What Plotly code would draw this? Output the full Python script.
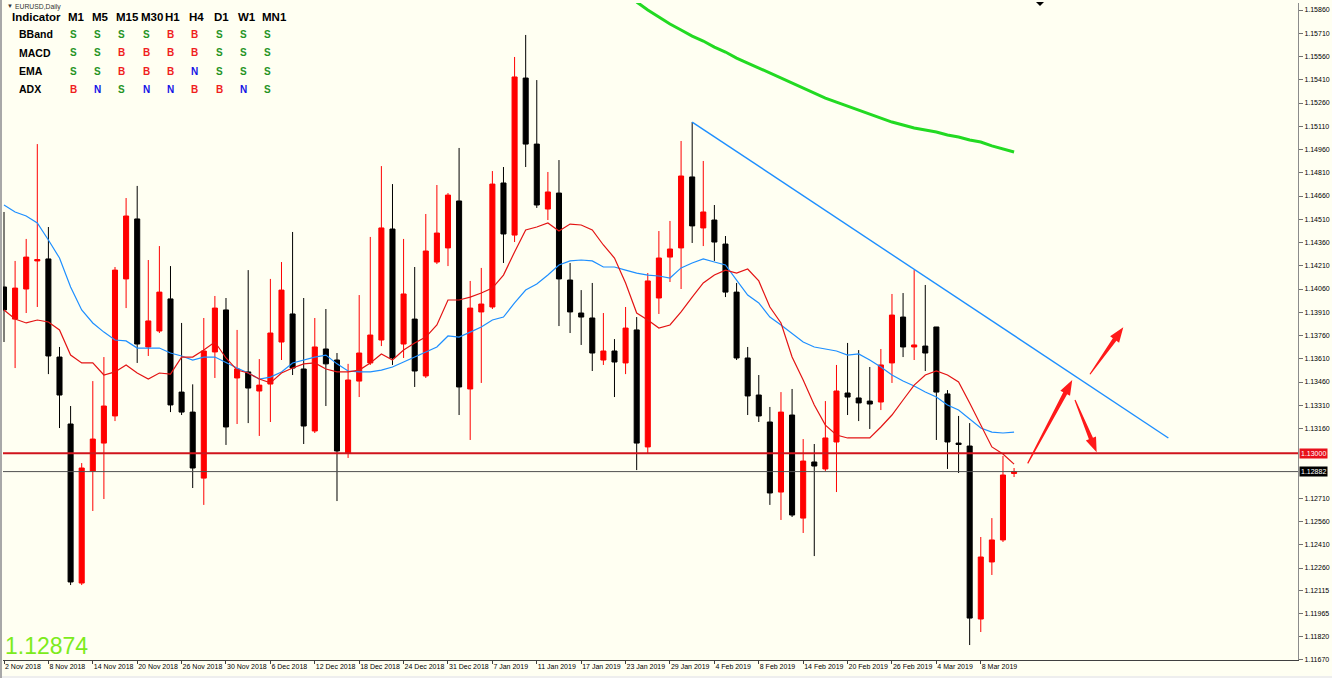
import math
import plotly.graph_objects as go

# ---------------- data ----------------
OPEN = [1.14073, 1.13866, 1.14060, 1.14241, 1.14254, 1.13621, 1.13189, 1.12163, 1.12886, 1.13066,
        1.13241, 1.14125, 1.14512, 1.13686, 1.13789, 1.13996, 1.13395, 1.13266, 1.12840, 1.13654,
        1.13925, 1.13486, 1.13525, 1.13402, 1.13447, 1.13718, 1.13899, 1.13544, 1.13144, 1.13673,
        1.13602, 1.13002, 1.13466, 1.13583, 1.13731, 1.14447, 1.13705, 1.13866, 1.13499, 1.14234,
        1.14325, 1.14628, 1.13415, 1.13912, 1.13944, 1.14744, 1.14408, 1.15421, 1.14995, 1.14576,
        1.14679, 1.14118, 1.13905, 1.13873, 1.13602, 1.13660, 1.13583, 1.13796, 1.13041, 1.14002,
        1.14266, 1.14325, 1.14783, 1.14454, 1.14505, 1.14350, 1.14040, 1.13615, 1.13376, 1.13202,
        1.12750, 1.13247, 1.12582, 1.12944, 1.12899, 1.13073, 1.13389, 1.13357, 1.13337, 1.13331,
        1.13583, 1.13879, 1.13686, 1.13692, 1.13815, 1.13383, 1.13066, 1.13047, 1.11931, 1.12299,
        1.12441, 1.12870]
HIGH = [1.14557, 1.14241, 1.14383, 1.14995, 1.14460, 1.13686, 1.13305, 1.12937, 1.13466, 1.13621,
        1.14202, 1.14647, 1.14725, 1.14247, 1.14337, 1.14208, 1.13841, 1.13445, 1.13873, 1.14015,
        1.14002, 1.13796, 1.14182, 1.13608, 1.14125, 1.14234, 1.14428, 1.14002, 1.13873, 1.13931,
        1.13647, 1.13577, 1.14021, 1.14396, 1.14853, 1.14737, 1.14383, 1.14202, 1.14544, 1.14731,
        1.14679, 1.14970, 1.14112, 1.14196, 1.14821, 1.14847, 1.15557, 1.15699, 1.15408, 1.14815,
        1.14892, 1.14228, 1.14053, 1.14099, 1.13905, 1.13737, 1.13944, 1.13879, 1.14163, 1.14434,
        1.14499, 1.15015, 1.15137, 1.14886, 1.14602, 1.14402, 1.14099, 1.13686, 1.13505, 1.13299,
        1.13395, 1.13415, 1.13092, 1.13060, 1.13337, 1.13570, 1.13712, 1.13666, 1.13557, 1.13673,
        1.14028, 1.14034, 1.14182, 1.14086, 1.13815, 1.13408, 1.13241, 1.13195, 1.12460, 1.12582,
        1.12983, 1.12905]
LOW = [1.13718, 1.13550, 1.13905, 1.13944, 1.13511, 1.13163, 1.12150, 1.12150, 1.12628, 1.12705,
       1.13208, 1.13937, 1.13583, 1.13628, 1.13776, 1.13266, 1.13247, 1.12776, 1.12667, 1.13486,
       1.13054, 1.13189, 1.13195, 1.13112, 1.13202, 1.13602, 1.13505, 1.13060, 1.13131, 1.13305,
       1.12692, 1.12970, 1.13363, 1.13570, 1.13692, 1.13570, 1.13615, 1.13428, 1.13486, 1.14221,
       1.14208, 1.13247, 1.13086, 1.13454, 1.13931, 1.14228, 1.14363, 1.14847, 1.14583, 1.14505,
       1.13821, 1.13776, 1.13699, 1.13531, 1.13570, 1.13363, 1.13511, 1.12892, 1.13002, 1.13899,
       1.14105, 1.14060, 1.14357, 1.14337, 1.14241, 1.14008, 1.13602, 1.13247, 1.13202, 1.12667,
       1.12570, 1.12589, 1.12486, 1.12337, 1.12886, 1.12750, 1.13247, 1.13208, 1.13157, 1.13279,
       1.13454, 1.13621, 1.13602, 1.13531, 1.13086, 1.12899, 1.12873, 1.11763, 1.11847, 1.12215,
       1.12428, 1.12847]
CLOSE = [1.13925, 1.14066, 1.14266, 1.14250, 1.13628, 1.13376, 1.12170, 1.12905, 1.13092, 1.13305,
         1.14182, 1.14531, 1.13705, 1.13854, 1.14040, 1.13312, 1.13266, 1.12905, 1.13660, 1.13937,
         1.13170, 1.13544, 1.13421, 1.13440, 1.13776, 1.14053, 1.13550, 1.13176, 1.13686, 1.13577,
         1.13015, 1.13473, 1.13647, 1.13763, 1.14454, 1.13615, 1.14028, 1.13531, 1.14305, 1.14421,
         1.14666, 1.13428, 1.13937, 1.13963, 1.14737, 1.14415, 1.15428, 1.14995, 1.14602, 1.14686,
         1.14125, 1.13912, 1.13879, 1.13647, 1.13660, 1.13589, 1.13808, 1.13066, 1.14112, 1.14260,
         1.14318, 1.14789, 1.14467, 1.14557, 1.14363, 1.14040, 1.13615, 1.13370, 1.13241, 1.12744,
         1.13266, 1.12602, 1.12950, 1.12918, 1.13099, 1.13402, 1.13363, 1.13325, 1.13318, 1.13570,
         1.13892, 1.13686, 1.13699, 1.13647, 1.13395, 1.13073, 1.13057, 1.11937, 1.12331, 1.12441,
         1.12860, 1.12882]

MA_FAST = [1.13925, 1.13866, 1.13841, 1.13860, 1.13847, 1.13796, 1.13634, 1.13583, 1.13583, 1.13505,
           1.13525, 1.13570, 1.13518, 1.13479, 1.13518, 1.13511, 1.13621, 1.13621, 1.13666, 1.13718,
           1.13615, 1.13537, 1.13518, 1.13479, 1.13454, 1.13518, 1.13550, 1.13577, 1.13583, 1.13544,
           1.13525, 1.13525, 1.13537, 1.13583, 1.13641, 1.13602, 1.13666, 1.13712, 1.13750, 1.13828,
           1.13989, 1.13989, 1.14008, 1.14034, 1.14066, 1.14150, 1.14299, 1.14441, 1.14460, 1.14486,
           1.14434, 1.14479, 1.14473, 1.14441, 1.14344, 1.14260, 1.14099, 1.13905, 1.13860, 1.13808,
           1.13828, 1.13912, 1.14008, 1.14099, 1.14150, 1.14182, 1.14163, 1.14189, 1.14112, 1.13944,
           1.13841, 1.13621, 1.13473, 1.13312, 1.13182, 1.13118, 1.13099, 1.13099, 1.13099, 1.13170,
           1.13247, 1.13344, 1.13440, 1.13505, 1.13531, 1.13505, 1.13460, 1.13325, 1.13182, 1.13041,
           1.12995, 1.12930]
MA_SLOW = [1.14602, 1.14557, 1.14531, 1.14486, 1.14376, 1.14260, 1.14073, 1.13925, 1.13841, 1.13782,
           1.13731, 1.13725, 1.13679, 1.13679, 1.13679, 1.13647, 1.13628, 1.13602, 1.13621, 1.13621,
           1.13583, 1.13550, 1.13518, 1.13479, 1.13492, 1.13525, 1.13583, 1.13602, 1.13621, 1.13634,
           1.13577, 1.13531, 1.13525, 1.13525, 1.13537, 1.13557, 1.13589, 1.13621, 1.13654, 1.13686,
           1.13757, 1.13750, 1.13782, 1.13815, 1.13860, 1.13879, 1.13970, 1.14053, 1.14092, 1.14150,
           1.14215, 1.14241, 1.14247, 1.14241, 1.14202, 1.14202, 1.14182, 1.14163, 1.14150, 1.14144,
           1.14131, 1.14196, 1.14228, 1.14254, 1.14234, 1.14215, 1.14118, 1.14021, 1.13970, 1.13879,
           1.13828, 1.13770, 1.13718, 1.13686, 1.13673, 1.13660, 1.13634, 1.13641, 1.13602, 1.13557,
           1.13505, 1.13466, 1.13434, 1.13395, 1.13363, 1.13312, 1.13279, 1.13221, 1.13163, 1.13137,
           1.13131, 1.13137]
MA_LONG = [None] * 57 + [
           1.15912, 1.15860, 1.15815, 1.15770, 1.15731, 1.15692, 1.15660, 1.15621, 1.15589, 1.15550,
           1.15518, 1.15486, 1.15454, 1.15421, 1.15389, 1.15357, 1.15325, 1.15292, 1.15266, 1.15241,
           1.15215, 1.15189, 1.15163, 1.15137, 1.15118, 1.15099, 1.15086, 1.15073, 1.15054, 1.15041,
           1.15021, 1.15008, 1.14983, 1.14963, 1.14944]

DATE_TICK_BARS = [0, 4, 8, 12, 16, 20, 24, 28, 32, 36, 40, 44, 48, 52, 56, 60, 64, 68, 72, 76, 80, 84, 88]
DATE_TICK_TEXT = ["2 Nov 2018", "8 Nov 2018", "14 Nov 2018", "20 Nov 2018", "26 Nov 2018", "30 Nov 2018",
                  "6 Dec 2018", "12 Dec 2018", "18 Dec 2018", "24 Dec 2018", "31 Dec 2018", "7 Jan 2019",
                  "11 Jan 2019", "17 Jan 2019", "23 Jan 2019", "29 Jan 2019", "4 Feb 2019", "8 Feb 2019",
                  "14 Feb 2019", "20 Feb 2019", "26 Feb 2019", "4 Mar 2019", "8 Mar 2019"]
PRICE_TICKS = [1.15860, 1.15710, 1.15560, 1.15410, 1.15260, 1.15110, 1.14960, 1.14810, 1.14660,
               1.14510, 1.14360, 1.14210, 1.14060, 1.13910, 1.13760, 1.13610, 1.13460, 1.13310,
               1.13160, 1.12710, 1.12560, 1.12410, 1.12260, 1.12115, 1.11965, 1.11820, 1.11670]

LEVEL_LINE = 1.13000
BID_PRICE = 1.12882
LAST_PRICE_TEXT = "1.12874"
TREND_X = [62.0, 104.9]
TREND_Y = [1.15137, 1.13099]
ARROWS = [  # (bar0, price0, bar1, price1)
    (92.23, 1.12935, 96.24, 1.13473),
    (96.49, 1.13344, 98.44, 1.13006),
    (97.84, 1.13510, 100.84, 1.13813),
]

TIMEFRAMES = ["M1", "M5", "M15", "M30", "H1", "H4", "D1", "W1", "MN1"]
INDICATORS = ["BBand", "MACD", "EMA", "ADX"]
SIG_BBAND = ["S", "S", "S", "S", "B", "B", "S", "S", "S"]
SIG_MACD = ["S", "S", "B", "B", "B", "B", "S", "S", "S"]
SIG_EMA = ["S", "S", "B", "B", "B", "N", "S", "S", "S"]
SIG_ADX = ["B", "N", "S", "N", "N", "B", "B", "N", "S"]
SYMBOL_TITLE = "EURUSD,Daily"

# ---------------- layout geometry ----------------
W, H = 1332, 678
PL, PR, PT, PB = 3, 1298, 3, 660
X_RANGE = [-0.09, 116.58]
Y_RANGE = [1.116665, 1.159052]
BG = "#FFFFF2"
FONT = "Liberation Sans, Arial, sans-serif"


def px_to_paper(px, py):
    return (px - PL) / (PR - PL), 1 - (py - PT) / (PB - PT)


def data_to_px(xv, yv):
    px = PL + (xv - X_RANGE[0]) / (X_RANGE[1] - X_RANGE[0]) * (PR - PL)
    py = PT + (Y_RANGE[1] - yv) / (Y_RANGE[1] - Y_RANGE[0]) * (PB - PT)
    return px, py


bars = list(range(len(OPEN)))

fig = go.Figure()
fig.add_trace(go.Candlestick(
    x=bars, open=OPEN, high=HIGH, low=LOW, close=CLOSE,
    increasing=dict(line=dict(color="#FF0000", width=1), fillcolor="#FF0000"),
    decreasing=dict(line=dict(color="#000000", width=1), fillcolor="#000000"),
    whiskerwidth=0, showlegend=False, hoverinfo="skip",
))
fig.add_trace(go.Scatter(x=bars, y=MA_SLOW, mode="lines",
                         line=dict(color="#1E8FFF", width=1.2), showlegend=False, hoverinfo="skip"))
fig.add_trace(go.Scatter(x=bars, y=MA_FAST, mode="lines",
                         line=dict(color="#E31414", width=1.2), showlegend=False, hoverinfo="skip"))
fig.add_trace(go.Scatter(x=bars, y=MA_LONG, mode="lines",
                         line=dict(color="#22DA22", width=3), showlegend=False, hoverinfo="skip"))
fig.add_trace(go.Scatter(x=TREND_X, y=TREND_Y, mode="lines",
                         line=dict(color="#1E8FFF", width=1.4), showlegend=False, hoverinfo="skip"))

shapes = []
# horizontal level and bid line
shapes.append(dict(type="line", xref="paper", x0=0, x1=1, yref="y", y0=LEVEL_LINE, y1=LEVEL_LINE,
                   line=dict(color="#D0141C", width=2), layer="above"))
shapes.append(dict(type="line", xref="paper", x0=0, x1=1, yref="y", y0=BID_PRICE, y1=BID_PRICE,
                   line=dict(color="#505050", width=1), layer="above"))

# tapered red arrows
for (a0, b0, a1, b1) in ARROWS:
    x0, y0 = data_to_px(a0, b0)
    x1, y1 = data_to_px(a1, b1)
    dx, dy = x1 - x0, y1 - y0
    L = math.hypot(dx, dy)
    ux, uy = dx / L, dy / L
    nx, ny = -uy, ux
    hl, hw, sw, tw = 15, 5.5, 2.2, 0.6
    bx, by = x1 - ux * hl, y1 - uy * hl
    pts = [(x0 + nx * tw, y0 + ny * tw), (bx + nx * sw, by + ny * sw), (bx + nx * hw, by + ny * hw),
           (x1, y1), (bx - nx * hw, by - ny * hw), (bx - nx * sw, by - ny * sw),
           (x0 - nx * tw, y0 - ny * tw)]
    pp = [px_to_paper(px, py) for px, py in pts]
    path = "M " + " L ".join(f"{u:.5f},{v:.5f}" for u, v in pp) + " Z"
    shapes.append(dict(type="path", xref="paper", yref="paper", path=path,
                       fillcolor="#FF1A1A", line=dict(width=0), layer="above"))

# window frame: left grey border and bottom grey band
lx0, _ = px_to_paper(0, 0)
lx1, _ = px_to_paper(2, 0)
_, ty = px_to_paper(0, 0)
_, by_ = px_to_paper(0, 678)
_, band = px_to_paper(0, 676)
shapes.append(dict(type="rect", xref="paper", yref="paper", x0=lx0, x1=lx1, y0=by_, y1=ty,
                   fillcolor="#A8A8A8", line=dict(width=0), layer="above"))
rx, _ = px_to_paper(1332, 0)
shapes.append(dict(type="rect", xref="paper", yref="paper", x0=lx0, x1=rx, y0=by_, y1=band,
                   fillcolor="#EEEEEE", line=dict(width=0), layer="below"))
# shift marker (small black triangle at top)
tri = [px_to_paper(1036, 2), px_to_paper(1044, 2), px_to_paper(1040, 6)]
shapes.append(dict(type="path", xref="paper", yref="paper",
                   path="M " + " L ".join(f"{u:.5f},{v:.5f}" for u, v in tri) + " Z",
                   fillcolor="#000000", line=dict(width=0), layer="above"))

annotations = []


def text_at(px, py, txt, size, color, bold=False, anchor="left", family=FONT):
    xp, yp = px_to_paper(px, py)
    annotations.append(dict(
        x=xp, y=yp, xref="paper", yref="paper", text=(f"<b>{txt}</b>" if bold else txt),
        showarrow=False, xanchor=anchor, yanchor="middle",
        font=dict(family=family, size=size, color=color)))


# indicator table
text_at(5, 6.5, "▼", 6, "#333333")
text_at(13, 6.7, SYMBOL_TITLE, 6.8, "#333333")
text_at(10, 16.7, "Indicator", 11.5, "#000000", bold=True)
for k, tf in enumerate(TIMEFRAMES):
    text_at(65.7 + 24.3 * k, 16.7, tf, 11.5, "#000000", bold=True)
SIG_COLORS = {"S": "#249424", "B": "#F01E1E", "N": "#1414E6"}
rows = [SIG_BBAND, SIG_MACD, SIG_EMA, SIG_ADX]
row_y = [34.3, 52.7, 71.0, 89.3]
for name, sigs, ry in zip(INDICATORS, rows, row_y):
    text_at(17, ry, name, 10.5, "#000000", bold=True)
    for k, s in enumerate(sigs):
        text_at(73.3 + 24.3 * k, ry, s, 10, SIG_COLORS[s], bold=True, anchor="center")

# big last price
text_at(3, 646, LAST_PRICE_TEXT, 23, "#7CEB1C")

# price labels on the axis
lab_x, _ = px_to_paper(1299, 0)
for val, bg in [(LEVEL_LINE, "#E8101A"), (BID_PRICE, "#000000")]:
    annotations.append(dict(x=lab_x, y=val, xref="paper", yref="y", text=f"{val:.5f}",
                            showarrow=False, xanchor="left", yanchor="middle",
                            bgcolor=bg, borderpad=1,
                            font=dict(family=FONT, size=7, color="#FFFFFF")))

fig.update_layout(
    width=W, height=H,
    margin=dict(l=PL, r=W - PR, t=PT, b=H - PB, autoexpand=False),
    paper_bgcolor=BG, plot_bgcolor=BG,
    showlegend=False, hovermode=False, boxgap=0.35,
    shapes=shapes, annotations=annotations,
    font=dict(family=FONT, size=7, color="#000000"),
    xaxis=dict(range=X_RANGE, showgrid=False, zeroline=False, rangeslider=dict(visible=False),
               tickmode="array", tickvals=DATE_TICK_BARS, ticktext=DATE_TICK_TEXT,
               ticks="outside", ticklen=3, tickcolor="#404040", ticklabelposition="outside right",
               tickangle=0, ticklabelstandoff=0,
               showline=True, linecolor="#404040", linewidth=1, automargin=False,
               tickfont=dict(family=FONT, size=7, color="#000000")),
    yaxis=dict(range=Y_RANGE, side="right", showgrid=False, zeroline=False,
               tickmode="array", tickvals=PRICE_TICKS, ticktext=[f"{v:.5f}" for v in PRICE_TICKS],
               ticks="outside", ticklen=4, tickcolor="#707070",
               showline=True, linecolor="#8C8C8C", linewidth=1, automargin=False,
               tickfont=dict(family=FONT, size=7, color="#000000")),
)

fig.write_html("out.html", config={"displayModeBar": False},
               post_script="document.body.style.margin='0';document.body.style.overflow='hidden';")
